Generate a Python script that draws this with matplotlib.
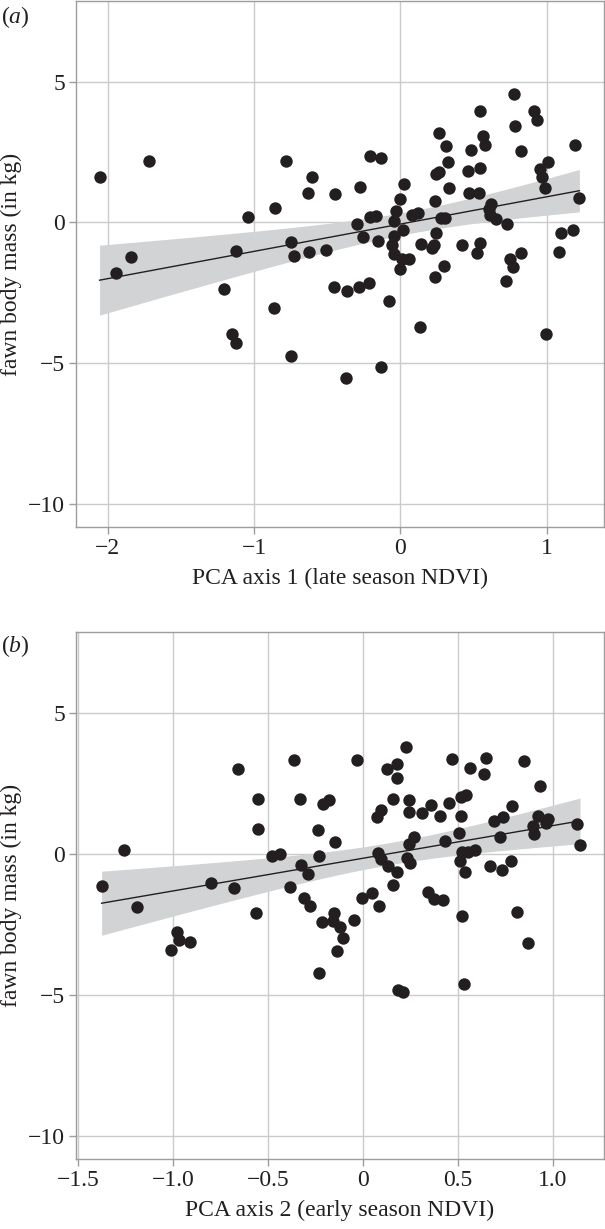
import numpy as np
import matplotlib
matplotlib.use("Agg")
import matplotlib.pyplot as plt


# panel (a): PCA axis 1 (late season NDVI) vs fawn body mass
pca1 = [-2.055, -1.72, -1.94, -1.84, -1.04, -0.78, -0.607, -0.63, -0.448, -0.855,
        -1.123, -0.748, -0.725, -0.623, -0.511, -0.455, -1.207, -0.864, -1.148, -1.123,
        -0.75, -0.375, -0.13, -0.368, -0.284, -0.218, -0.077, 0.132, 0.995, -0.207,
        -0.13, -0.277, -0.30, -0.255, -0.15, -0.205, -0.168, 0.022, 0.0, -0.032,
        -0.046, 0.014, -0.046, -0.061, -0.041, 0.009, 0.055, 0.0, 0.082, 0.123,
        0.141, 0.216, 0.227, 0.245, 0.297, 0.238, 0.238, 0.275, 0.307, 0.24,
        0.26, 0.329, 0.322, 0.311, 0.264, 0.422, 0.459, 0.484, 0.468, 0.536,
        0.545, 0.545, 0.564, 0.577, 0.545, 0.525, 0.62, 0.604, 0.609, 0.654,
        0.727, 0.745, 0.768, 0.822, 0.718, 0.775, 0.782, 0.823, 0.911, 0.936,
        0.95, 1.005, 0.968, 0.99, 1.097, 1.177, 1.081, 1.19, 1.222]
mass1 = [1.63, 2.20, -1.81, -1.22, 0.18, 2.20, 1.61, 1.06, 1.02, 0.50,
         -1.03, -0.70, -1.19, -1.04, -0.99, -2.28, -2.35, -3.04, -3.98, -4.29,
         -4.75, -5.52, -5.12, -2.45, -2.28, -2.16, -2.78, -3.72, -3.98, 2.36,
         2.28, 1.26, -0.06, -0.50, -0.65, 0.18, 0.24, 1.36, 0.85, 0.41,
         0.06, -0.27, -0.47, -0.79, -1.12, -1.30, -1.30, -1.67, 0.27, 0.34,
         -0.77, -0.89, -0.79, -0.38, -1.56, -1.93, 0.76, 0.16, 0.16, 1.72,
         1.80, 1.22, 2.16, 2.72, 3.17, -0.79, 1.83, 2.58, 1.04, 1.06,
         1.95, 3.96, 3.07, 2.77, -0.74, -1.07, 0.65, 0.47, 0.27, 0.14,
         -0.06, -1.30, -1.59, -1.07, -2.07, 4.57, 3.44, 2.53, 3.96, 3.64,
         1.89, 2.16, 1.63, 1.24, -0.37, -0.28, -1.04, 2.75, 0.86]

# panel (b): PCA axis 2 (early season NDVI) vs fawn body mass
pca2 = [-1.375, -1.256, -1.19, -0.977, -0.97, -1.012, -0.909, -0.80, -0.679, -0.657,
        -0.554, -0.554, -0.564, -0.479, -0.434, -0.361, -0.33, -0.385, -0.326, -0.289,
        -0.308, -0.277, -0.235, -0.228, -0.207, -0.176, -0.146, -0.214, -0.232, -0.151,
        -0.158, -0.119, -0.102, -0.137, -0.046, -0.028, -0.004, 0.051, 0.087, 0.158,
        0.077, 0.098, 0.13, 0.182, 0.179, 0.225, 0.161, 0.244, 0.244, 0.314,
        0.359, 0.407, 0.456, 0.082, 0.096, 0.135, 0.18, 0.27, 0.244, 0.232,
        0.25, 0.346, 0.376, 0.423, 0.435, 0.186, 0.211, 0.47, 0.517, 0.541,
        0.515, 0.509, 0.521, 0.552, 0.591, 0.513, 0.538, 0.523, 0.535, 0.565,
        0.647, 0.64, 0.67, 0.732, 0.782, 0.693, 0.74, 0.723, 0.786, 0.81,
        0.87, 0.851, 0.932, 0.925, 0.896, 0.902, 0.974, 0.965, 1.126, 1.144]
mass2 = [-1.15, 0.14, -1.90, -2.77, -3.07, -3.41, -3.14, -1.05, -1.21, 3.01,
         1.94, 0.89, -2.11, -0.08, -0.01, 3.32, 1.95, -1.16, -0.39, -0.71,
         -1.56, -1.84, 0.83, -0.07, 1.78, 1.92, 0.41, -2.43, -4.24, -2.11,
         -2.37, -2.58, -2.99, -3.46, -2.35, 3.32, -1.55, -1.38, -1.84, -1.10,
         1.32, 1.57, 3.00, 3.20, 2.68, 3.79, 1.93, 1.90, 1.48, 1.44,
         1.73, 1.33, 1.80, 0.04, -0.18, -0.42, -0.63, 0.60, 0.35, -0.13,
         -0.33, -1.36, -1.60, -1.64, 0.47, -4.82, -4.89, 3.36, 2.03, 2.07,
         1.33, 0.73, 0.06, 0.06, 0.14, -0.26, -0.66, -2.22, -4.63, 3.06,
         3.39, 2.84, -0.44, -0.56, -0.24, 1.16, 1.32, 0.59, 1.69, -2.07,
         -3.15, 3.28, 2.42, 1.33, 1.00, 0.69, 1.23, 1.09, 1.07, 0.30]

xticks_a = [-2, -1, 0, 1]
xticklabels_a = ["\u22122", "\u22121", "0", "1"]
xticks_b = [-1.5, -1.0, -0.5, 0, 0.5, 1.0]
xticklabels_b = ["\u22121.5", "\u22121.0", "\u22120.5", "0", "0.5", "1.0"]
yticks = [-10, -5, 0, 5]
yticklabels = ["\u221210", "\u22125", "0", "5"]

DOT = "#231f20"
BAND = "#d1d3d4"
GRID = "#cbcbcb"
SPINE = "#9d9d9d"

plt.rcParams["font.family"] = ["Liberation Serif", "DejaVu Serif"]
plt.rcParams["mathtext.fontset"] = "custom"
plt.rcParams["mathtext.it"] = "Liberation Serif:italic"
plt.rcParams["mathtext.rm"] = "Liberation Serif"


def fit_band(x, y, t=1.984):
    x = np.asarray(x)
    y = np.asarray(y)
    n = len(x)
    slope, inter = np.polyfit(x, y, 1)
    xs = np.linspace(x.min(), x.max(), 200)
    yhat = inter + slope * xs
    resid = y - (inter + slope * x)
    s = np.sqrt(np.sum(resid ** 2) / (n - 2))
    sxx = np.sum((x - x.mean()) ** 2)
    se = s * np.sqrt(1.0 / n + (xs - x.mean()) ** 2 / sxx)
    return xs, yhat, yhat - t * se, yhat + t * se


def draw_panel(ax, x, y, xlim, xticks, xticklabels, xlabel):
    xs, yhat, lo, hi = fit_band(x, y)
    ax.fill_between(xs, lo, hi, color=BAND, lw=0, zorder=2)
    ax.plot(xs, yhat, color=DOT, lw=1.0, zorder=3)
    ax.scatter(x, y, s=80, color=DOT, lw=0, zorder=4)

    ax.set_xlim(xlim)
    ax.set_ylim(-10.82, 7.87)
    ax.set_xticks(xticks)
    ax.set_xticklabels(xticklabels)
    ax.set_yticks(yticks)
    ax.set_yticklabels(yticklabels)
    ax.grid(True, color=GRID, lw=1.0, zorder=0)
    ax.set_axisbelow(True)
    for sp in ax.spines.values():
        sp.set_color(SPINE)
        sp.set_linewidth(1.0)
    ax.tick_params(direction="out", length=5, width=1.0, color=SPINE,
                   labelsize=17, pad=3, labelcolor="#231f20")
    ax.set_xlabel(xlabel, fontsize=17, color="#231f20", labelpad=6)
    ax.set_ylabel("fawn body mass (in kg)", fontsize=17, color="#231f20", labelpad=4)


def main():
    fig = plt.figure(figsize=(6.05, 12.29), dpi=100)
    ax_a = fig.add_axes([0.1256, 0.5712, 0.8727, 0.4280])
    ax_b = fig.add_axes([0.1256, 0.0570, 0.8727, 0.4288])

    draw_panel(ax_a, pca1, mass1, (-2.216, 1.39), xticks_a, xticklabels_a,
               "PCA axis 1 (late season NDVI)")
    draw_panel(ax_b, pca2, mass2, (-1.51, 1.27), xticks_b, xticklabels_b,
               "PCA axis 2 (early season NDVI)")

    fig.text(0.002, 0.986, r"($\mathit{a}$)", fontsize=17, color="#231f20", va="center")
    fig.text(0.002, 0.474, r"($\mathit{b}$)", fontsize=17, color="#231f20", va="center")

    fig.savefig("out.png", dpi=100)


if __name__ == "__main__":
    main()
